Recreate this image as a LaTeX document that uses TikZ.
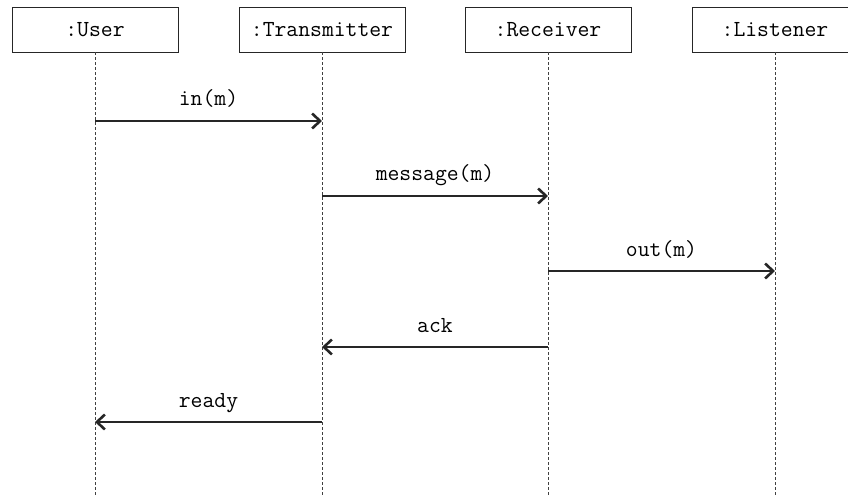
\documentclass[tikz,border=0pt]{standalone}
\usetikzlibrary{arrows.meta}
\begin{document}
\begin{tikzpicture}[x=1pt,y=-1pt,
  obj/.style={draw=black!85, line width=0.8pt, minimum width=166pt, minimum height=45pt, inner sep=0pt,
    font=\fontsize{23pt}{27pt}\ttfamily},
  life/.style={draw=black!75, line width=0.7pt, dash pattern=on 3pt off 2pt},
  msg/.style={draw=black!85, line width=1.1pt, -{Straight Barb[length=8pt,width=15pt,line width=2.6pt]}},
  lbl/.style={font=\fontsize{23pt}{27pt}\ttfamily, anchor=base, inner sep=0pt}]
\useasboundingbox (0,0) rectangle (848,497);
\node[obj] (u) at (95,29.5) {:User};
\node[obj] (t) at (322,29.5) {:Transmitter};
\node[obj] (r) at (548,29.5) {:Receiver};
\node[obj] (l) at (775,29.5) {:Listener};
\foreach \n/\x in {u/95,t/322,r/548,l/775}{
  \coordinate (\n end) at (\x,497);
  \draw[life] (\n.south) -- (\n end);
}
% message endpoints on lifelines
\coordinate (u1) at (95,121);  \coordinate (t1) at (322,121);
\coordinate (t2) at (322,196); \coordinate (r2) at (548,196);
\coordinate (r3) at (548,271); \coordinate (l3) at (775,271);
\coordinate (r4) at (548,347); \coordinate (t4) at (322,347);
\coordinate (t5) at (322,422); \coordinate (u5) at (95,422);
\draw[msg] (u1) -- node[lbl, yshift=15pt] (m1) {in(m)} (t1);
\draw[msg] (t2) -- node[lbl, yshift=15pt] (m2) {message(m)} (r2);
\draw[msg] (r3) -- node[lbl, yshift=15pt] (m3) {out(m)} (l3);
\draw[msg] (r4) -- node[lbl, yshift=15pt] (m4) {ack} (t4);
\draw[msg] (t5) -- node[lbl, yshift=15pt] (m5) {ready} (u5);
\end{tikzpicture}
\end{document}
